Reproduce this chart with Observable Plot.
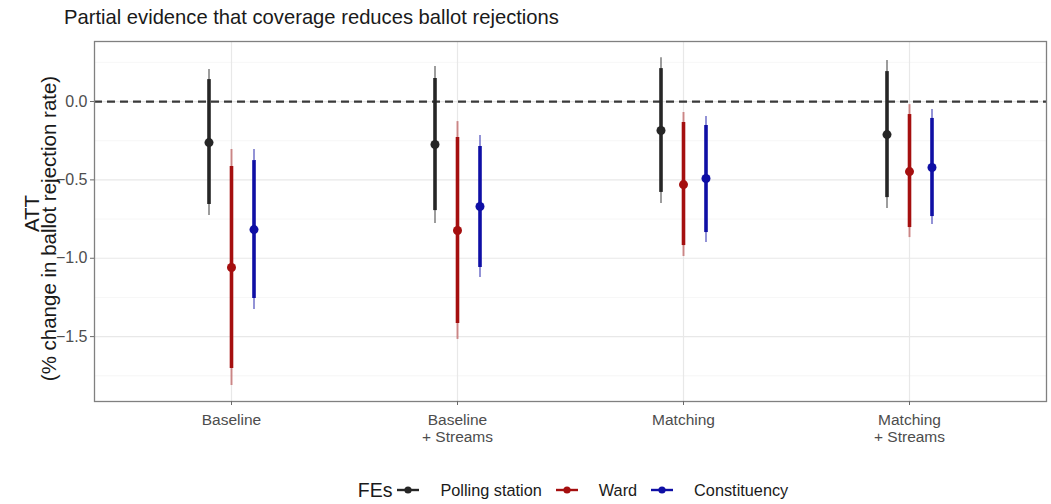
<!DOCTYPE html>
<html>
<head>
<meta charset="utf-8">
<script src="https://cdn.jsdelivr.net/npm/d3@7"></script>
<script src="https://cdn.jsdelivr.net/npm/@observablehq/plot@0.6"></script>
<style>
  body { margin: 0; background: #fff; font-family: "Liberation Sans", Arial, sans-serif; }
  #title { height: 34px; line-height: 34px; padding-left: 64px; font-size: 20.2px; color: #1a1a1a; white-space: nowrap; }
  #legend { height: 40px; display: flex; align-items: center; justify-content: center; padding: 12px 5px 0 100px; box-sizing: border-box; color: #1a1a1a; }
  #legend .ttl { font-size: 19.5px; margin-right: 4px; }
  #legend .item { display: flex; align-items: center; font-size: 16.3px; }
  #legend .item span { margin-left: 20px; margin-right: 13px; }
  #legend .item:last-child span { margin-right: 0; }
  svg { display: block; }
</style>
</head>
<body>
<div id="title">Partial evidence that coverage reduces ballot rejections</div>
<div id="chart"></div>
<div id="legend"></div>
<script>
// Specifications on the x axis
const categories = ["Baseline", "Baseline\n+ Streams", "Matching", "Matching\n+ Streams"];

// Fixed-effect levels and their colours
const series = ["Polling station", "Ward", "Constituency"];
const colors = ["#262626", "#a50f0f", "#0f0fa5"];

// Estimates per specification: [ATT, inner low, inner high, outer low, outer high]
const pollingStation = [
  [-0.262, -0.657, 0.140, -0.728, 0.204],
  [-0.274, -0.696, 0.147, -0.779, 0.223],
  [-0.185, -0.580, 0.210, -0.651, 0.280],
  [-0.211, -0.613, 0.191, -0.683, 0.262]
];
const ward = [
  [-1.059, -1.704, -0.415, -1.812, -0.306],
  [-0.823, -1.416, -0.230, -1.518, -0.128],
  [-0.530, -0.919, -0.134, -0.989, -0.070],
  [-0.447, -0.804, -0.083, -0.868, -0.020]
];
const constituency = [
  [-0.817, -1.257, -0.377, -1.327, -0.306],
  [-0.670, -1.059, -0.287, -1.123, -0.217],
  [-0.491, -0.836, -0.153, -0.900, -0.096],
  [-0.421, -0.734, -0.108, -0.785, -0.051]
];

// Y axis ticks
const yTicks = [0, -0.5, -1.0, -1.5];
const yMinor = [0.25, -0.25, -0.75, -1.25, -1.75];

const estimates = [pollingStation, ward, constituency];
const rowsFor = (k) => estimates[k].map((d, i) => ({
  spec: categories[i], series: series[k],
  att: d[0], lo: d[1], hi: d[2], lo2: d[3], hi2: d[4]
}));

const dodge = 22.5;
const seriesMarks = series.flatMap((s, k) => {
  const rows = rowsFor(k);
  const dx = (k - 1) * dodge;
  return [
    Plot.ruleX(rows, {x: "spec", y1: "lo2", y2: "hi2", stroke: colors[k], strokeWidth: 2, strokeOpacity: 0.45, dx}),
    Plot.ruleX(rows, {x: "spec", y1: "lo", y2: "hi", stroke: colors[k], strokeWidth: 3.6, dx}),
    Plot.dot(rows, {x: "spec", y: "att", r: 4.5, fill: colors[k], stroke: "none", dx})
  ];
});

const chart = Plot.plot({
  width: 1051,
  height: 430,
  marginTop: 7,
  marginBottom: 63,
  marginLeft: 94,
  marginRight: 5,
  style: {fontFamily: "'Liberation Sans', Arial, sans-serif", color: "#4d4d4d", background: "#fff", overflow: "visible"},
  x: {type: "point", domain: categories, padding: 0.6, axis: null},
  y: {domain: [-1.914, 0.383], axis: null},
  marks: [
    Plot.gridY(yMinor, {stroke: "#f2f2f2", strokeOpacity: 1, strokeWidth: 0.7}),
    Plot.gridY(yTicks, {stroke: "#e8e8e8", strokeOpacity: 1, strokeWidth: 1.2}),
    Plot.gridX(categories, {stroke: "#e8e8e8", strokeOpacity: 1, strokeWidth: 1.2}),
    Plot.ruleY([0], {stroke: "#3a3a3a", strokeWidth: 2.3, strokeDasharray: "8,5"}),
    ...seriesMarks,
    Plot.frame({stroke: "#808080", strokeWidth: 1.3}),
    Plot.axisY(yTicks, {tickSize: 4, tickPadding: 3, fontSize: 16, tickFormat: d3.format(".1f"), stroke: "#6a6a6a", fill: "#4d4d4d", label: null}),
    Plot.axisX(categories, {tickSize: 4, tickPadding: 7, fontSize: 15.5, lineHeight: 1.12, stroke: "#6a6a6a", fill: "#4d4d4d", label: null}),
    Plot.text(["ATT"], {frameAnchor: "left", textAnchor: "middle", dx: -62, dy: -8, rotate: -90, fontSize: 20.5, fill: "#1a1a1a"}),
    Plot.text(["(% change in ballot rejection rate)"], {frameAnchor: "left", textAnchor: "middle", dx: -45, dy: 7, rotate: -90, fontSize: 20.5, fill: "#1a1a1a"})
  ]
});
document.getElementById("chart").append(chart);

// Legend: line-and-dot keys built from the series arrays
const legend = document.getElementById("legend");
const ttl = document.createElement("span");
ttl.className = "ttl";
ttl.textContent = "FEs";
legend.append(ttl);
series.forEach((s, k) => {
  const item = document.createElement("div");
  item.className = "item";
  const key = d3.create("svg").attr("width", 24).attr("height", 14);
  key.append("line").attr("x1", 1).attr("x2", 23).attr("y1", 7).attr("y2", 7)
    .attr("stroke", colors[k]).attr("stroke-width", 2.4);
  key.append("circle").attr("cx", 12).attr("cy", 7).attr("r", 3.6).attr("fill", colors[k]);
  item.append(key.node());
  const label = document.createElement("span");
  label.textContent = s;
  item.append(label);
  legend.append(item);
});
</script>
</body>
</html>
